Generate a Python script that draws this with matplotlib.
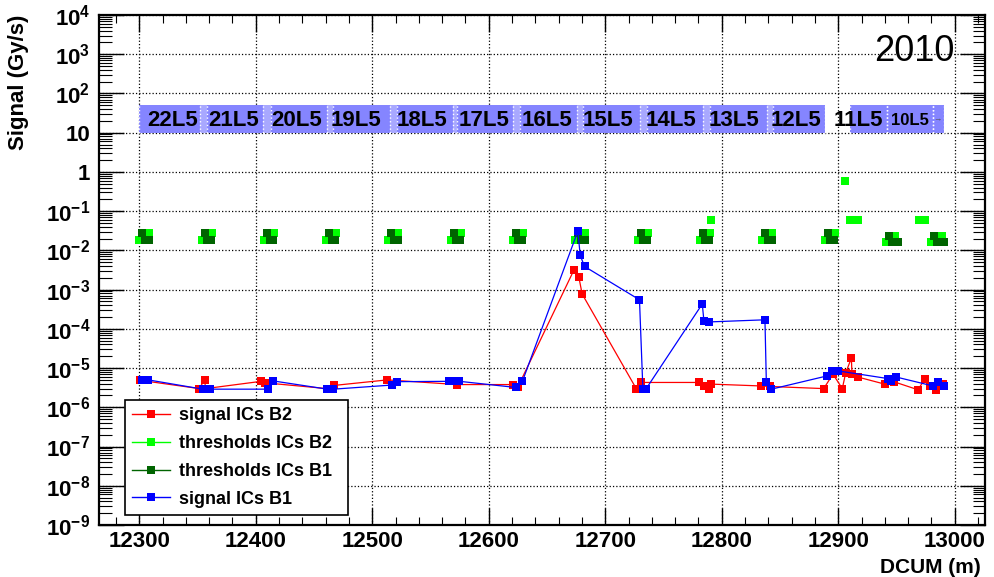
import numpy as np
import matplotlib
matplotlib.use("Agg")
import matplotlib.pyplot as plt
from matplotlib.ticker import LogLocator, FixedLocator, FixedFormatter, MultipleLocator, NullFormatter
from matplotlib.lines import Line2D
from matplotlib.patches import Rectangle

plt.rcParams['font.family'] = ['Liberation Sans', 'DejaVu Sans']
plt.rcParams['font.weight'] = 'bold'
plt.rcParams['mathtext.fontset'] = 'custom'
plt.rcParams['mathtext.rm'] = 'Liberation Sans:bold'
plt.rcParams['mathtext.it'] = 'Liberation Sans:bold'
plt.rcParams['mathtext.bf'] = 'Liberation Sans:bold'

# signal ICs B2 (red)
sig_b2_x = [12300.4, 12351.5, 12356.0, 12357.0, 12404.8, 12408.2, 12461.0, 12466.8, 12513.0,
            12573.1, 12621.2, 12625.0, 12673.0, 12677.3, 12680.2, 12726.6, 12730.9, 12780.4,
            12784.7, 12789.0, 12791.0, 12834.0, 12841.1, 12887.5, 12895.5, 12903.5, 12906.4,
            12911.3, 12911.8, 12916.9, 12939.9, 12947.6, 12968.5, 12974.2, 12979.1, 12984.3, 12989.9]
sig_b2_y = [4.9e-6, 3.0e-6, 5.0e-6, 3.0e-6, 4.6e-6, 4.2e-6, 3.0e-6, 3.6e-6, 5.0e-6,
            3.8e-6, 3.8e-6, 3.3e-6, 3.1e-3, 2.1e-3, 7.7e-4, 3.0e-6, 4.3e-6, 4.3e-6,
            3.4e-6, 3.0e-6, 3.9e-6, 3.5e-6, 3.4e-6, 3.0e-6, 7.0e-6, 3.0e-6, 7.5e-6,
            1.8e-5, 7.0e-6, 5.9e-6, 3.9e-6, 4.5e-6, 2.8e-6, 5.2e-6, 3.5e-6, 2.8e-6, 3.9e-6]

# signal ICs B1 (blue)
sig_b1_x = [12302.6, 12307.7, 12354.5, 12361.0, 12410.8, 12415.1, 12461.5, 12466.6, 12517.3,
            12521.2, 12566.3, 12571.4, 12574.8, 12623.4, 12628.9, 12676.5, 12678.5, 12682.2,
            12729.4, 12732.3, 12735.2, 12783.3, 12784.7, 12789.0, 12837.1, 12838.3, 12842.6,
            12890.3, 12894.4, 12899.5, 12942.7, 12945.6, 12949.9, 12981.4, 12985.7, 12990.6]
sig_b1_y = [5.0e-6, 5.0e-6, 2.9e-6, 2.9e-6, 2.9e-6, 4.7e-6, 2.9e-6, 2.9e-6, 3.7e-6,
            4.5e-6, 4.6e-6, 4.6e-6, 4.6e-6, 3.2e-6, 4.6e-6, 3.1e-2, 7.5e-3, 3.9e-3,
            5.5e-4, 3.0e-6, 3.0e-6, 4.3e-4, 1.6e-4, 1.5e-4, 1.7e-4, 4.3e-6, 2.9e-6,
            6.3e-6, 8.5e-6, 8.5e-6, 5.4e-6, 4.6e-6, 5.9e-6, 3.5e-6, 4.3e-6, 3.5e-6]

# thresholds ICs B2 (light green)
thr_b2_x = [12300.0, 12308.6, 12353.5, 12362.1, 12407.1, 12415.7, 12460.4, 12469.0,
            12513.9, 12522.5, 12567.4, 12576.0, 12620.6, 12629.2, 12674.2, 12682.8,
            12727.7, 12736.3, 12781.0, 12789.6, 12834.8, 12843.4, 12888.3, 12896.9,
            12940.7, 12948.9, 12980.0, 12989.5,
            12790.8, 12905.5, 12909.8, 12916.7, 12969.5, 12974.6]
thr_b2_y = [0.0185, 0.028, 0.0185, 0.028, 0.0185, 0.028, 0.0185, 0.028,
            0.0185, 0.028, 0.0185, 0.028, 0.0185, 0.028, 0.0185, 0.028,
            0.0185, 0.028, 0.0185, 0.028, 0.0185, 0.028, 0.0185, 0.028,
            0.0161, 0.0238, 0.0161, 0.0238,
            0.061, 0.59, 0.061, 0.061, 0.061, 0.061]

# thresholds ICs B1 (dark green)
thr_b1_x = [12302.6, 12304.9, 12308.0, 12356.1, 12358.4, 12361.5, 12409.7, 12412.0, 12415.1,
            12463.0, 12465.3, 12468.4, 12516.5, 12518.8, 12521.9, 12570.0, 12572.3, 12575.4,
            12623.2, 12625.5, 12628.6, 12676.8, 12679.1, 12682.2, 12730.3, 12732.6, 12735.7,
            12783.6, 12785.9, 12789.0, 12837.4, 12839.7, 12842.8, 12890.9, 12893.2, 12896.3,
            12943.7, 12946.1, 12951.0, 12982.4, 12984.8, 12990.8]
thr_b1_y = [0.028, 0.0185, 0.0185] * 12 + [0.0238, 0.0161, 0.0161] * 2

# cell boxes along the top
box_left = [12300.0, 12358.0, 12413.0, 12466.2, 12521.2, 12572.7, 12626.8, 12681.0,
            12735.9, 12790.0, 12844.1, 12910.3, 12942.1, 12981.5]
box_right = [12352.0, 12406.1, 12461.0, 12515.2, 12569.3, 12620.8, 12675.8, 12729.9,
             12784.0, 12839.0, 12888.8, 12942.1, 12981.5, 12991.0]
cell_names = ["22L5", "21L5", "20L5", "19L5", "18L5", "17L5", "16L5", "15L5",
              "14L5", "13L5", "12L5", "11L5", "10L5", "\u2192"]
cell_x = [12328.8, 12381.2, 12435.3, 12486.0, 12542.6, 12595.9, 12650.0, 12702.4,
          12756.5, 12810.6, 12863.9, 12917.1, 12961.8, 12985.0]
cell_size = [16, 16, 16, 16, 16, 16, 16, 16, 16, 16, 16, 16, 12, 6]

fig = plt.figure(figsize=(9.94, 5.77), dpi=100)
ax = fig.add_axes([98.5 / 994, 52 / 577, 886.5 / 994, 510 / 577])
ax.set_yscale("log")
ax.set_xlim(12265, 13026)
ax.set_ylim(1e-9, 1e4)

box_col = "#8585ff"
for i in range(len(box_left)):
    ax.add_patch(Rectangle((box_left[i], 10), box_right[i] - box_left[i], 40,
                           facecolor=box_col, edgecolor="none", zorder=1))
    if i + 1 < len(box_left) and box_left[i + 1] - box_right[i] < 10:
        ax.add_patch(Rectangle((box_right[i], 10), box_left[i + 1] - box_right[i], 40,
                               facecolor="#a8a8ff", edgecolor="none", zorder=1))
ax.vlines(box_left + box_right, 10, 50, colors="white", linestyles=":", linewidth=1, zorder=1.5)
for name, xc, fs in zip(cell_names, cell_x, cell_size):
    ax.text(xc, 21, name, ha="center", va="center", fontsize=fs, fontweight="bold",
            color="black" if fs > 6 else "#555555", zorder=2)

ms = 6
ax.plot(sig_b2_x, sig_b2_y, color="red", lw=0.9, marker="s", ms=ms, mew=0, zorder=3)
ax.plot(thr_b2_x, thr_b2_y, ls="none", color="#00ff00", marker="s", ms=ms, mew=0, zorder=3)
ax.plot(thr_b1_x, thr_b1_y, ls="none", color="#006400", marker="s", ms=ms, mew=0, zorder=3)
ax.plot(sig_b1_x, sig_b1_y, color="blue", lw=0.9, marker="s", ms=ms, mew=0, zorder=3)

ax.grid(True, which="major", linestyle=":", color="black", linewidth=0.9)
ax.set_axisbelow(True)

ax.xaxis.set_major_locator(MultipleLocator(100))
ax.xaxis.set_minor_locator(MultipleLocator(20))
ydec = [10.0 ** k for k in range(-9, 5)]
ylab = ["$10^{%d}$" % k for k in range(-9, 0)] + ["1", "10"] + ["$10^{%d}$" % k for k in range(2, 5)]
ax.yaxis.set_major_locator(FixedLocator(ydec))
ax.yaxis.set_major_formatter(FixedFormatter(ylab))
ax.yaxis.set_minor_locator(LogLocator(base=10, subs=np.arange(2, 10), numticks=100))
ax.yaxis.set_minor_formatter(NullFormatter())

ax.tick_params(which="both", direction="in", top=True, right=True, labelsize=16)
ax.tick_params(axis="y", which="major", length=18, width=1, pad=6)
ax.tick_params(axis="y", which="minor", length=9, width=0.8)
ax.tick_params(axis="x", which="major", length=12, width=1, pad=4)
ax.tick_params(axis="x", which="minor", length=6, width=0.8)
for s in ax.spines.values():
    s.set_linewidth(1.6)

ax.set_xlabel("DCUM (m)", loc="right", fontsize=15, fontweight="bold")
ax.xaxis.set_label_coords(0.995, -0.064)
ax.set_ylabel("Signal (Gy/s)", loc="top", fontsize=16, fontweight="bold", labelpad=12)

ax.text(0.92, 0.929, "2010", transform=ax.transAxes, ha="center", va="center",
        fontsize=26, fontweight="normal")

handles = [Line2D([], [], color="red", marker="s", ms=ms, mew=0, lw=1),
           Line2D([], [], color="#00ff00", marker="s", ms=ms, mew=0, lw=1),
           Line2D([], [], color="#006400", marker="s", ms=ms, mew=0, lw=1),
           Line2D([], [], color="blue", marker="s", ms=ms, mew=0, lw=1)]
labels = ["signal ICs B2", "thresholds ICs B2", "thresholds ICs B1", "signal ICs B1"]
leg = ax.legend(handles, labels, loc="upper left", bbox_to_anchor=(0.0299, 0.0176, 0.2516, 0.2275),
                mode="expand", borderaxespad=0, fancybox=False, framealpha=1, edgecolor="black",
                prop={"size": 13, "weight": "bold"}, handlelength=2.1, handletextpad=0.5,
                labelspacing=0.6, borderpad=0.4)
leg.get_frame().set_linewidth(1.2)
leg.set_zorder(5)

fig.savefig("out.png", dpi=100)
